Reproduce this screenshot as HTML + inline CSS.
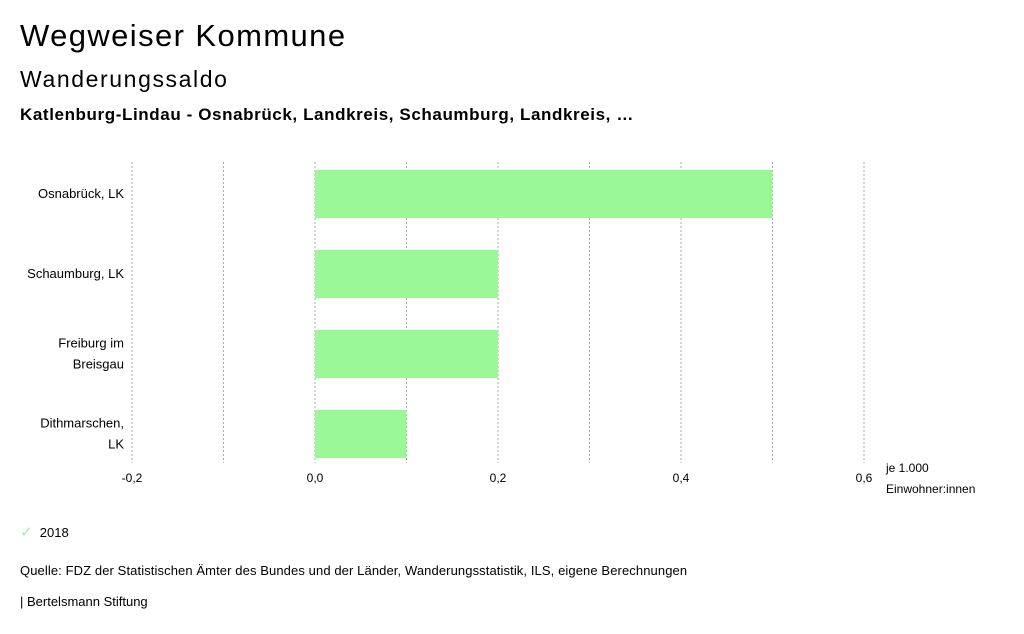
<!DOCTYPE html>
<html><head><meta charset="utf-8"><style>
body{margin:0;width:1024px;height:634px;background:#fff;font-family:"Liberation Sans","DejaVu Sans",sans-serif;color:#000;overflow:hidden;position:relative}
.t{position:absolute;white-space:nowrap}
</style></head><body>
<div class="t" style="left:20px;top:18px;font-size:31px;letter-spacing:1.4px">Wegweiser Kommune</div>
<div class="t" style="left:20px;top:66px;font-size:23px;letter-spacing:1.6px">Wanderungssaldo</div>
<div class="t" style="left:20px;top:105px;font-size:17px;font-weight:bold;letter-spacing:0.6px">Katlenburg-Lindau - Osnabrück, Landkreis, Schaumburg, Landkreis, …</div>
<svg id="chart" width="1024" height="634" style="position:absolute;left:0;top:0" font-family="Liberation Sans, DejaVu Sans, sans-serif"></svg>
<div class="t" style="left:20px;top:523px;font-size:13px"><span style="color:#9bf896;font-size:15px">✓</span>&nbsp;&nbsp;2018</div>
<div class="t" style="left:20px;top:563px;font-size:13px;letter-spacing:0.1px">Quelle: FDZ der Statistischen Ämter des Bundes und der Länder, Wanderungsstatistik, ILS, eigene Berechnungen</div>
<div class="t" style="left:20px;top:594px;font-size:13px">| Bertelsmann Stiftung</div>
<script>
const categories=[["Osnabrück, LK"],["Schaumburg, LK"],["Freiburg im","Breisgau"],["Dithmarschen,","LK"]];
const values2018=[0.5,0.2,0.2,0.1];
const ticks=[-0.2,-0.1,0,0.1,0.2,0.3,0.4,0.5,0.6];
const tickLabels=["-0,2","","0,0","","0,2","","0,4","","0,6"];
const svg=document.getElementById('chart');const NS="http://www.w3.org/2000/svg";
const x=v=>315+(v)*915;
const rowY=i=>170+i*80;
function mk(t,a){const e=document.createElementNS(NS,t);for(const k in a)e.setAttribute(k,a[k]);svg.appendChild(e);return e;}
ticks.forEach((t,i)=>{
const l=mk('line',{x1:x(t),x2:x(t),y1:162,y2:463,stroke:'#aaa','stroke-dasharray':'2,2','stroke-width':1});


if(tickLabels[i]){const tx=mk('text',{x:x(t),y:482,'text-anchor':'middle','font-size':12});tx.textContent=tickLabels[i];

}
});
values2018.forEach((v,i)=>{
const r=mk('rect',{x:Math.min(x(0),x(v)),y:rowY(i),width:Math.abs(x(v)-x(0)),height:48,fill:'#9bf896'});


const lines=categories[i];
lines.forEach((s,j)=>{const ty=rowY(i)+24+4+(j-(lines.length-1)/2)*21;
const tx=mk('text',{x:124,y:ty,'text-anchor':'end','font-size':13});tx.textContent=s;

});
});
const u1=mk('text',{x:886,y:472,'font-size':12});u1.textContent='je 1.000';


const u2=mk('text',{x:886,y:493,'font-size':12});u2.textContent='Einwohner:innen';


</script>
</body></html>
